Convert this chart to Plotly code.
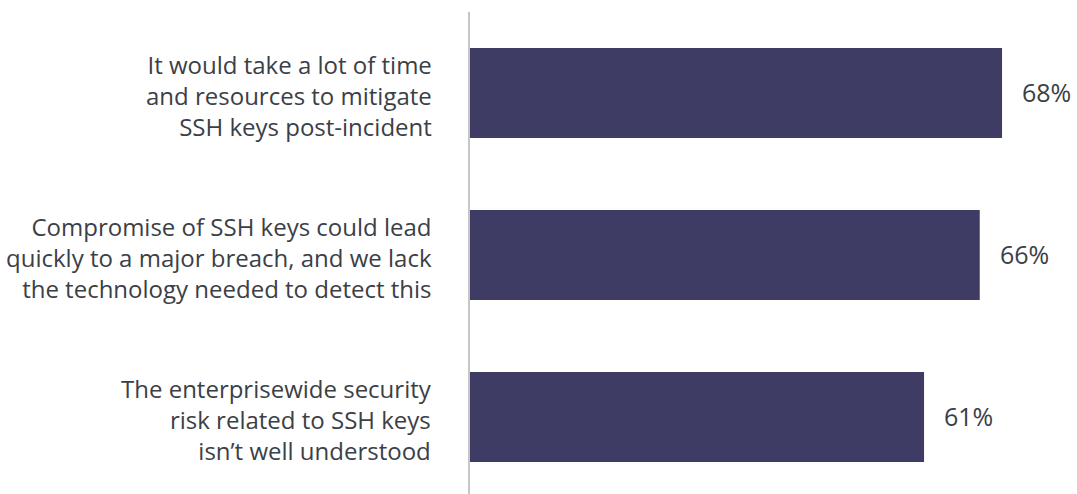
import plotly.graph_objects as go

categories = [
    "It would take a lot of time<br>and resources to mitigate<br>SSH keys post-incident",
    "Compromise of SSH keys could lead<br>quickly to a major breach, and we lack<br>the technology needed to detect this",
    "The enterprisewide security<br>risk related to SSH keys<br>isn’t well understood",
]
values = [68, 66, 61]
value_labels = ["68%", "66%", "61%"]

BAR = "#3e3c64"
TEXT = "#3b4046"
FONT = "Open Sans"

fig = go.Figure(
    go.Bar(
        x=values,
        y=list(range(len(categories))),
        orientation="h",
        width=0.556,
        marker=dict(color=BAR, line=dict(width=0)),
        hoverinfo="skip",
    )
)

# value labels just past the bar ends
for i, (v, lab) in enumerate(zip(values, value_labels)):
    fig.add_annotation(
        x=v, y=i, xref="x", yref="y", text=lab, showarrow=False,
        xanchor="left", xshift=18, yshift=1,
        font=dict(family=FONT, size=25, color=TEXT),
    )

# category labels, right aligned left of the axis line
for i, c in enumerate(categories):
    fig.add_annotation(
        x=0, y=i, xref="paper", yref="y", text=c, showarrow=False,
        xanchor="right", align="right", xshift=-36, yshift=-2,
        font=dict(family=FONT, size=24, color=TEXT),
    )

fig.update_layout(
    width=1077, height=494,
    margin=dict(l=470, r=0, t=12, b=0),
    plot_bgcolor="white", paper_bgcolor="white",
    showlegend=False,
    xaxis=dict(range=[20.24, 74.73], showgrid=False, zeroline=False,
               showticklabels=False, showline=False, fixedrange=True),
    yaxis=dict(range=[2.475, -0.5], showgrid=False, zeroline=False,
               showticklabels=False, showline=True, linecolor="#c6c6c6",
               linewidth=2, fixedrange=True),
)

fig.write_html("out.html")
